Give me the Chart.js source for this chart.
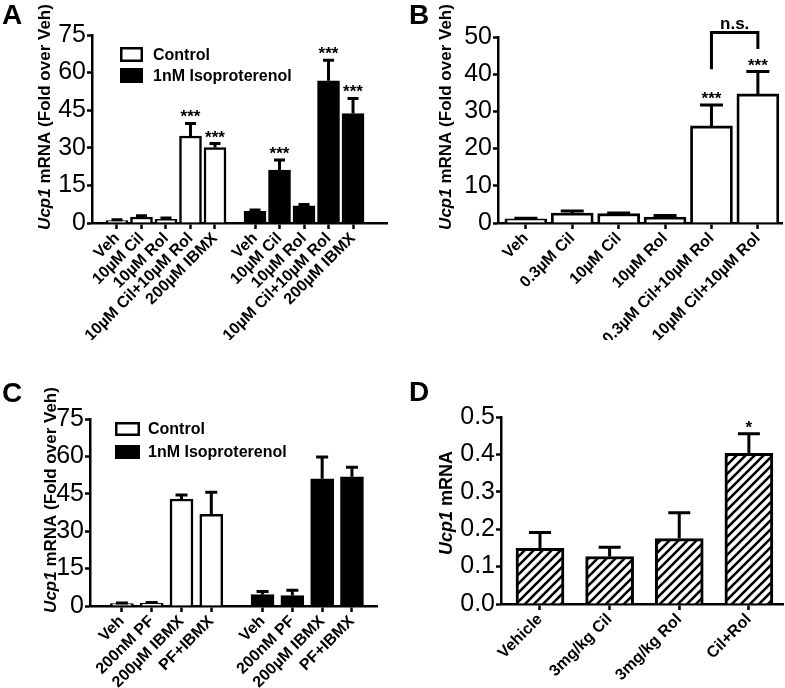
<!DOCTYPE html>
<html><head><meta charset="utf-8">
<script src="https://cdn.jsdelivr.net/npm/chart.js@4.4.0/dist/chart.umd.min.js"></script>
<style>
html,body{margin:0;padding:0;background:#fff;}
#wrap{position:relative;width:785px;height:688px;overflow:hidden;background:#fff;}
canvas{position:absolute;}
.letter{position:absolute;font:bold 28px 'Liberation Sans',Arial,sans-serif;color:#000;line-height:28px;}
</style></head><body>
<div id="wrap">
<canvas id="cA" width="392" height="340" style="left:0;top:0"></canvas>
<canvas id="cB" width="392" height="340" style="left:393px;top:0"></canvas>
<canvas id="cC" width="392" height="348" style="left:0;top:340px"></canvas>
<canvas id="cD" width="392" height="348" style="left:393px;top:340px"></canvas>
<div class="letter" style="left:2px;top:1px">A</div>
<div class="letter" style="left:409px;top:1px">B</div>
<div class="letter" style="left:2px;top:379px">C</div>
<div class="letter" style="left:409px;top:378px">D</div>
</div>
<script>
// ---------------- DATA ----------------
const seriesNames = ['Control', '1nM Isoproterenol'];
const yGene = 'Ucp1';
const yTitleFold = ' mRNA (Fold over Veh)';
const yTitlePlain = ' mRNA';

// Panel A
const aLabels = ['Veh', '10\u00B5M Cil', '10\u00B5M Rol', '10\u00B5M Cil+10\u00B5M Rol', '200\u00B5M IBMX'];
const aControl = [1.0, 2.4, 1.5, 34.7, 30.1];
const aControlErr = [0.3, 0.5, 0.5, 5.0, 1.6];
const aControlSig = ['', '', '', '***', '***'];
const aIso = [4.7, 21.1, 6.8, 56.7, 43.7];
const aIsoErr = [0.5, 4.0, 0.6, 8.2, 6.0];
const aIsoSig = ['', '***', '', '***', '***'];
const aTicks = [0, 15, 30, 45, 60, 75];

// Panel B
const bLabels = ['Veh', '0.3\u00B5M Cil', '10\u00B5M Cil', '10\u00B5M Rol', '0.3\u00B5M Cil+10\u00B5M Rol', '10\u00B5M Cil+10\u00B5M Rol'];
const bVals = [1.1, 2.7, 2.5, 1.6, 26.1, 34.7];
const bErr = [0.2, 0.5, 0.2, 0.4, 5.6, 6.0];
const bSig = ['', '', '', '', '***', '***'];
const bTicks = [0, 10, 20, 30, 40, 50];
const bCompare = ['n.s.'];

// Panel C
const cLabels = ['Veh', '200nM PF', '200\u00B5M IBMX', 'PF+IBMX'];
const cControl = [1.0, 1.2, 42.9, 36.8];
const cControlErr = [0.2, 0.2, 1.6, 8.8];
const cIso = [4.6, 4.2, 51.0, 51.8];
const cIsoErr = [1.2, 2.1, 8.8, 3.8];
const cTicks = [0, 15, 30, 45, 60, 75];

// Panel D
const dLabels = ['Vehicle', '3mg/kg Cil', '3mg/kg Rol', 'Cil+Rol'];
const dVals = [0.149, 0.127, 0.175, 0.403];
const dErr = [0.042, 0.025, 0.069, 0.052];
const dSig = ['', '', '', '*'];
const dTicks = [0, 0.1, 0.2, 0.3, 0.4, 0.5];

// ---------------- STYLE / LAYOUT ----------------
const FAM = "'Liberation Sans', Arial, Helvetica, sans-serif";
Chart.defaults.font.family = FAM;
Chart.defaults.color = '#000';
Chart.defaults.animation = false;

function hatchPattern() {
  const s = 9;
  const c = document.createElement('canvas'); c.width = s; c.height = s;
  const g = c.getContext('2d');
  g.fillStyle = '#fff'; g.fillRect(0, 0, s, s);
  g.strokeStyle = '#000'; g.lineWidth = 2.6;
  g.beginPath();
  g.moveTo(-1, s + 1); g.lineTo(s + 1, -1);
  g.moveTo(-2, 2); g.lineTo(2, -2);
  g.moveTo(s - 2, s + 2); g.lineTo(s + 2, s - 2);
  g.stroke();
  return g.createPattern(c, 'repeat');
}

const extrasPlugin = {
  id: 'extras',
  afterDatasetsDraw(chart) {
    const ex = chart.options.plugins.extras || {};
    const ctx = chart.ctx;
    const ys = chart.scales.y;
    chart.data.datasets.forEach((ds, di) => {
      const meta = chart.getDatasetMeta(di);
      meta.data.forEach((el, j) => {
        const v = ds.data[j].y, e = ds.errors[j];
        const top = ys.getPixelForValue(v + e);
        ctx.save();
        ctx.strokeStyle = '#000'; ctx.lineWidth = ex.errWidth || 3; ctx.lineCap = 'butt';
        ctx.beginPath();
        ctx.moveTo(el.x, el.y); ctx.lineTo(el.x, top);
        ctx.moveTo(el.x - ex.capW / 2, top); ctx.lineTo(el.x + ex.capW / 2, top);
        ctx.stroke();
        const s = ds.sig ? ds.sig[j] : '';
        if (s) {
          ctx.fillStyle = '#000';
          ctx.font = 'bold 17px ' + FAM;
          ctx.textAlign = 'center'; ctx.textBaseline = 'alphabetic';
          ctx.fillText(s, el.x, top - 1);
        }
        ctx.restore();
      });
    });
  },
  afterDraw(chart) {
    const ex = chart.options.plugins.extras || {};
    const ctx = chart.ctx;
    if (ex.title) {
      const t = ex.title;
      ctx.save();
      ctx.translate(t.x, t.y);
      ctx.rotate(-Math.PI / 2);
      ctx.textBaseline = 'middle'; ctx.textAlign = 'left'; ctx.fillStyle = '#000';
      const fonts = t.parts.map(p => (p.italic ? 'italic ' : '') + 'bold ' + t.size + 'px ' + FAM);
      const widths = t.parts.map((p, i) => { ctx.font = fonts[i]; return ctx.measureText(p.text).width; });
      let x = -widths.reduce((a, b) => a + b, 0) / 2;
      t.parts.forEach((p, i) => { ctx.font = fonts[i]; ctx.fillText(p.text, x, 0); x += widths[i]; });
      ctx.restore();
    }
    if (ex.legend) {
      const L = ex.legend;
      chart.data.datasets.forEach((ds, i) => {
        const bx = L.x, by = L.y + i * L.rowH;
        ctx.save();
        ctx.fillStyle = ds.backgroundColor; ctx.fillRect(bx, by, L.boxW, L.boxH);
        ctx.lineWidth = 2.5; ctx.strokeStyle = '#000';
        ctx.strokeRect(bx + 1.25, by + 1.25, L.boxW - 2.5, L.boxH - 2.5);
        ctx.font = 'bold ' + L.size + 'px ' + FAM; ctx.fillStyle = '#000';
        ctx.textBaseline = 'middle'; ctx.textAlign = 'left';
        ctx.fillText(ds.label, bx + L.boxW + L.gap, by + L.boxH / 2 + 1);
        ctx.restore();
      });
    }
    if (ex.bracket) {
      const b = ex.bracket, xs = chart.scales.x, ys = chart.scales.y;
      const x1 = xs.getPixelForValue(b.from), x2 = xs.getPixelForValue(b.to);
      const yb = ys.getPixelForValue(b.y);
      ctx.save();
      ctx.strokeStyle = '#000'; ctx.lineWidth = 3; ctx.lineJoin = 'miter';
      ctx.beginPath();
      ctx.moveTo(x1, ys.getPixelForValue(b.leftY)); ctx.lineTo(x1, yb);
      ctx.lineTo(x2, yb); ctx.lineTo(x2, ys.getPixelForValue(b.rightY));
      ctx.stroke();
      ctx.font = 'bold 17px ' + FAM; ctx.fillStyle = '#000';
      ctx.textAlign = 'center'; ctx.textBaseline = 'alphabetic';
      ctx.fillText(b.text, (x1 + x2) / 2, yb - 4);
      ctx.restore();
    }
  }
};

function xAxis(min, max, positions, labels, h, fontSize) {
  return {
    type: 'linear', min: min, max: max, offset: false,
    afterBuildTicks: s => { s.ticks = positions.map(v => ({ value: v })); },
    afterFit: s => { s.height = h; },
    ticks: { autoSkip: false, minRotation: 45, maxRotation: 45, padding: 0, color: '#000',
             font: { size: fontSize, weight: 'bold' }, callback: (v, i) => labels[i] },
    grid: { display: true, offset: false, drawOnChartArea: false, drawTicks: true, tickLength: 6, tickWidth: 2.5, tickColor: '#000' },
    border: { display: true, width: 2.5, color: '#000' }
  };
}
function yAxis(ticks, w, fmt) {
  return {
    type: 'linear', min: ticks[0], max: ticks[ticks.length - 1],
    afterBuildTicks: s => { s.ticks = ticks.map(v => ({ value: v })); },
    afterFit: s => { s.width = w; },
    ticks: { padding: 1, color: '#000', font: { size: 25 }, callback: fmt || (v => String(v)) },
    grid: { display: true, drawOnChartArea: false, drawTicks: true, tickLength: 5, tickWidth: 2.5, tickColor: '#000' },
    border: { display: true, width: 2.5, color: '#000' }
  };
}
function pts(vals, offset) { return vals.map((v, i) => ({ x: i + offset, y: v })); }
function barDs(label, vals, errs, sig, offset, bg, thick, bw) {
  return { label: label, data: pts(vals, offset), errors: errs, sig: sig,
           backgroundColor: bg, borderColor: '#000', borderWidth: bw, barThickness: thick, grouped: false };
}
function makeChart(id, datasets, x, y, padding, extras) {
  return new Chart(document.getElementById(id), {
    type: 'bar',
    data: { datasets: datasets },
    options: {
      responsive: false, animation: false,
      layout: { padding: padding },
      plugins: { legend: { display: false }, tooltip: { enabled: false }, extras: extras },
      scales: { x: x, y: y }
    },
    plugins: [extrasPlugin]
  });
}

// ---------------- PANEL A ----------------
const A_GAP = 0.633;
const aOff2 = aLabels.length + A_GAP;
const aPos = aLabels.map((_, i) => i).concat(aLabels.map((_, i) => i + aOff2));
makeChart('cA',
  [barDs(seriesNames[0], aControl, aControlErr, aControlSig, 0, '#fff', 22, 2.5),
   barDs(seriesNames[1], aIso, aIsoErr, aIsoSig, aOff2, '#000', 22, 2.5)],
  xAxis(-1.02, 11.02, aPos, aLabels.concat(aLabels), 117, 16),
  yAxis(aTicks, 92),
  { left: 0, top: 35, right: 5, bottom: 0 },
  { capW: 11, errWidth: 3,
    title: { x: 45, y: 117, size: 17, parts: [{ text: yGene, italic: true }, { text: yTitleFold }] },
    legend: { x: 120, y: 47, rowH: 21, boxW: 23, boxH: 15, gap: 10, size: 16 } });

// ---------------- PANEL B ----------------
makeChart('cB',
  [barDs('B', bVals, bErr, bSig, 0, '#fff', 42, 2.8)],
  xAxis(-0.6, 5.52, bLabels.map((_, i) => i), bLabels, 117, 16),
  yAxis(bTicks, 105),
  { left: 0, top: 37, right: 3, bottom: 0 },
  { capW: 23, errWidth: 3,
    title: { x: 53, y: 117, size: 17, parts: [{ text: yGene, italic: true }, { text: yTitleFold }] },
    bracket: { from: 4, to: 5, y: 51.2, leftY: 41.3, rightY: 46.8, text: bCompare[0] } });

// ---------------- PANEL C ----------------
const C_GAP = 0.72;
const cOff2 = cLabels.length + C_GAP;
const cPos = cLabels.map((_, i) => i).concat(cLabels.map((_, i) => i + cOff2));
makeChart('cC',
  [barDs(seriesNames[0], cControl, cControlErr, null, 0, '#fff', 23, 2.5),
   barDs(seriesNames[1], cIso, cIsoErr, null, cOff2, '#000', 23, 2.5)],
  xAxis(-1.07, 8.56, cPos, cLabels.concat(cLabels), 82, 16),
  yAxis(cTicks, 90),
  { left: 0, top: 79, right: 15, bottom: 0 },
  { capW: 12, errWidth: 3,
    title: { x: 51, y: 160, size: 17, parts: [{ text: yGene, italic: true }, { text: yTitleFold }] },
    legend: { x: 115, y: 82, rowH: 23, boxW: 25, boxH: 14, gap: 8, size: 16 } });

// ---------------- PANEL D ----------------
makeChart('cD',
  [barDs('D', dVals, dErr, dSig, 0, hatchPattern(), 48, 3)],
  xAxis(-0.56, 3.49, dLabels.map((_, i) => i), dLabels, 84, 16),
  yAxis(dTicks, 108, v => v.toFixed(1)),
  { left: 0, top: 77, right: 2, bottom: 0 },
  { capW: 22, errWidth: 3,
    title: { x: 54, y: 163, size: 18, parts: [{ text: yGene, italic: true }, { text: yTitlePlain }] } });
</script>
</body></html>
